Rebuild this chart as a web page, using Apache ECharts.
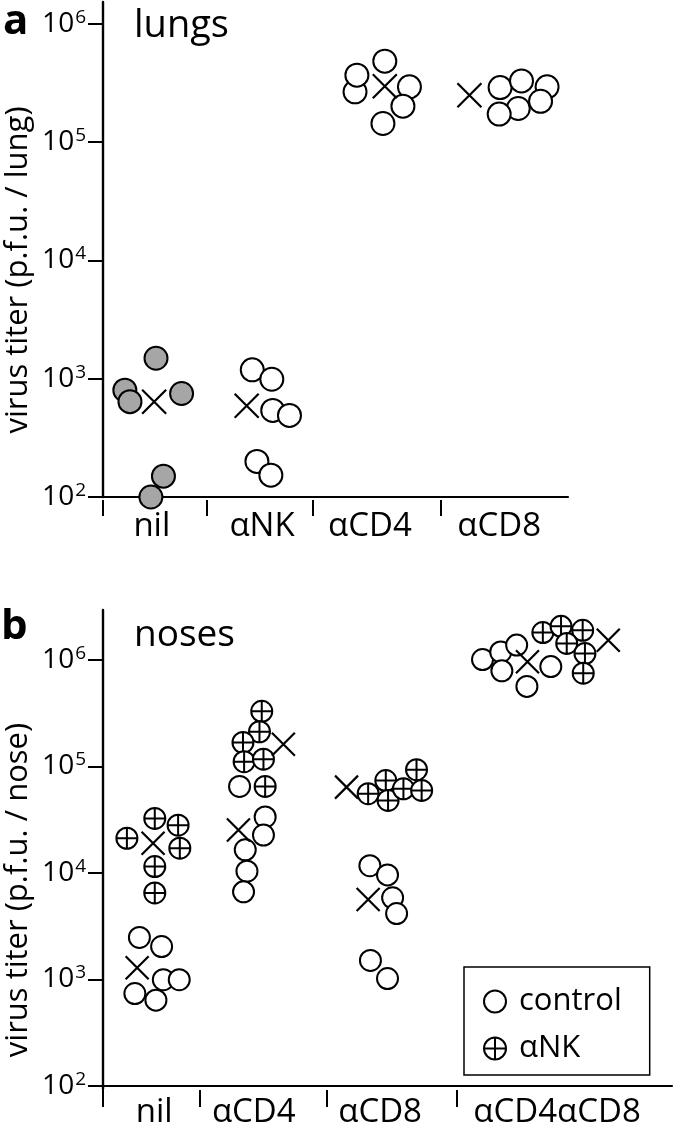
<!DOCTYPE html>
<html><head><meta charset="utf-8">
<script src="https://cdn.jsdelivr.net/npm/echarts@6/dist/echarts.min.js"></script>
<style>html,body{margin:0;padding:0;background:#fff}#c{width:675px;height:1129px}</style>
</head><body><div id="c"></div>
<script>
// ================= DATA =================
const tickExponents = [2, 3, 4, 5, 6];

// Panel a: lungs (p.f.u. / lung). X arrays = position along the axis (0-100), jitter
const lungCategories = ['nil', 'αNK', 'αCD4', 'αCD8'];
const lungCatCenters = [10.5, 34.2, 57.4, 85.2];
const lungCatBounds = [0, 22.4, 45.2, 72.7];

const lungNil = [1490, 800, 640, 750, 150, 100];
const lungNilX = [11.4, 4.7, 5.8, 16.9, 13.0, 10.3];
const lungNK = [1190, 990, 540, 490, 200, 153];
const lungNKX = [32.1, 36.3, 36.5, 40.1, 33.1, 36.1];
const lungCD4 = [267000, 369000, 485000, 294000, 202000, 144000];
const lungCD4X = [54.2, 54.6, 60.6, 65.9, 64.5, 60.2];
const lungCD8 = [294000, 290000, 330000, 193000, 222000, 173000];
const lungCD8X = [95.5, 85.4, 90.0, 89.3, 94.1, 85.2];
const lungMeans = [640, 590, 298000, 250000];
const lungMeansX = [11.0, 30.9, 60.6, 78.8];

// Panel b: noses (p.f.u. / nose)
const noseCategories = ['nil', 'αCD4', 'αCD8', 'αCD4αCD8'];
const noseCatCenters = [9.0, 26.5, 48.7, 79.8];
const noseCatBounds = [0, 17.0, 39.4, 62.2];

const noseNilCtrl = [2480, 2040, 996, 996, 738, 640];
const noseNilCtrlX = [6.4, 10.3, 10.6, 13.4, 5.6, 9.3];
const noseNilNK = [21200, 32500, 28100, 17100, 11500, 6500];
const noseNilNKX = [4.2, 9.1, 13.2, 13.5, 9.1, 9.1];
const noseCD4Ctrl = [65000, 33600, 22700, 16500, 10400, 6650];
const noseCD4CtrlX = [24.0, 28.5, 28.2, 25.0, 25.3, 24.7];
const noseCD4NK = [330000, 212000, 168000, 111000, 117000, 65000];
const noseCD4NKX = [27.9, 27.5, 24.6, 24.8, 28.2, 28.5];
const noseCD8Ctrl = [11700, 9600, 5850, 4160, 1510, 1020];
const noseCD8CtrlX = [46.9, 50.0, 50.9, 51.6, 47.0, 50.0];
const noseCD8NK = [55500, 73800, 48000, 61800, 93300, 59600];
const noseCD8NKX = [46.6, 49.7, 50.1, 52.8, 55.1, 56.0];
const noseCD48Ctrl = [1010000, 1190000, 1380000, 791000, 867000, 565000];
const noseCD48CtrlX = [66.7, 69.9, 72.7, 70.1, 78.7, 74.5];
const noseCD48NK = [1810000, 2070000, 1900000, 1430000, 1150000, 752000];
const noseCD48NKX = [77.3, 80.5, 84.3, 81.5, 84.7, 84.4];
const noseCtrlMeans = [1290, 25300, 5650, 964000];
const noseCtrlMeansX = [6.0, 23.8, 46.6, 74.6];
const noseNKMeans = [19000, 162000, 64000, 1530000];
const noseNKMeansX = [8.8, 31.7, 42.8, 88.8];

// ================= STYLE / BUILD =================
const FONT = '"Open Sans", "Noto Sans", sans-serif';
const plusCirclePath = 'path://M0,-10A10,10,0,1,1,0,10A10,10,0,1,1,0,-10ZM-10,0L10,0M0,-10L0,10';
const crossPath = 'path://M-10,-10L10,10M-10,10L10,-10';

function pts(xs, vs) { return vs.map((v, i) => [xs[i], v]); }

function series(name, panel, xs, vs, kind, size) {
  const s = {
    type: 'scatter', name, xAxisIndex: panel * 2, yAxisIndex: panel,
    data: pts(xs, vs), symbolSize: size, clip: false, silent: true,
    emphasis: { disabled: true }
  };
  if (kind === 'gray') {
    s.symbol = 'circle';
    s.itemStyle = { color: '#a6a6a6', borderColor: '#000', borderWidth: 2, opacity: 1 };
  } else if (kind === 'open') {
    s.symbol = 'circle';
    s.itemStyle = { color: '#fff', borderColor: '#000', borderWidth: 2, opacity: 1 };
  } else if (kind === 'plus') {
    s.symbol = plusCirclePath;
    s.itemStyle = { color: '#fff', borderColor: '#000', borderWidth: 2, opacity: 1 };
  } else {
    s.symbol = crossPath;
    s.itemStyle = { color: 'rgba(0,0,0,0)', borderColor: '#000', borderWidth: 2.2, opacity: 1 };
  }
  return s;
}

function nearestLabel(v, centers, names) {
  let bi = 0, bd = Infinity;
  centers.forEach((c, i) => { const d = Math.abs(c - v); if (d < bd) { bd = d; bi = i; } });
  return names[bi];
}

function yAxis(gi) {
  return {
    type: 'log', logBase: 10, gridIndex: gi, min: Math.pow(10, tickExponents[0]),
    max: Math.pow(10, tickExponents[tickExponents.length - 1]),
    axisLine: { show: false },
    axisTick: { show: true, length: 15, lineStyle: { color: '#000', width: 2 } },
    axisLabel: {
      margin: 17,
      formatter: v => '{b|10}{s|' + Math.round(Math.log10(v)) + '}',
      rich: {
        b: { fontSize: 28, fontFamily: FONT, color: '#000' },
        s: { fontSize: 19, fontFamily: FONT, color: '#000', padding: [0, 0, 13, 1] }
      }
    },
    splitLine: { show: false }
  };
}

function xMain(gi) {
  return {
    type: 'value', gridIndex: gi, min: 0, max: 100, position: 'bottom',
    axisLine: { show: true, onZero: false, lineStyle: { color: '#000', width: 2.2 } },
    axisTick: { show: false }, axisLabel: { show: false }, splitLine: { show: false }
  };
}

function xLabels(gi, bounds, centers, names, offset, tickLen, margin) {
  return {
    type: 'value', gridIndex: gi, min: 0, max: 100, position: 'bottom', offset,
    axisLine: { show: false, onZero: false },
    axisTick: { show: true, length: tickLen, customValues: bounds, lineStyle: { color: '#000', width: 2 } },
    axisLabel: {
      show: true, customValues: centers, margin,
      formatter: v => nearestLabel(v, centers, names),
      fontSize: 33, fontFamily: FONT, color: '#000'
    },
    splitLine: { show: false }
  };
}

function dummyX(gi) { return { type: 'value', gridIndex: gi, show: false, min: 0, max: 1 }; }
function dummyY(gi) {
  return {
    type: 'value', gridIndex: gi, min: 0, max: 1,
    axisLine: { show: true, lineStyle: { color: '#000', width: 2.4 } },
    axisTick: { show: false }, axisLabel: { show: false }, splitLine: { show: false }
  };
}

const option = {
  animation: false,
  backgroundColor: '#fff',
  grid: [
    { left: 103, top: 24, width: 465, height: 473 },
    { left: 103, top: 660, width: 569, height: 429 },
    { left: 103, top: 2, width: 465, height: 495 },
    { left: 103, top: 610, width: 569, height: 479 }
  ],
  xAxis: [
    xMain(0),
    xLabels(0, lungCatBounds, lungCatCenters, lungCategories, 3, 16, 10),
    xMain(1),
    xLabels(1, noseCatBounds, noseCatCenters, noseCategories, 4, 17, 6),
    dummyX(2), dummyX(3)
  ],
  yAxis: [yAxis(0), yAxis(1), dummyY(2), dummyY(3)],
  legend: {
    show: true, orient: 'vertical', left: 464, top: 967,
    padding: [19, 28, 11, 19], borderColor: '#000', borderWidth: 1.5,
    itemWidth: 22, itemHeight: 22, itemGap: 16, selectedMode: false,
    textStyle: { fontSize: 31, fontFamily: FONT, color: '#000', padding: [0, 0, 0, 8] },
    data: [
      { name: 'control', icon: 'circle', itemStyle: { color: '#fff', borderColor: '#000', borderWidth: 2 } },
      { name: 'αNK', icon: plusCirclePath, itemStyle: { color: '#fff', borderColor: '#000', borderWidth: 2 } }
    ]
  },
  graphic: [
    { type: 'text', x: 3, y: 22, style: { text: 'a', font: 'bold 42px ' + FONT, fill: '#000', verticalAlign: 'middle' } },
    { type: 'text', x: 134, y: 26, style: { text: 'lungs', font: '38px ' + FONT, fill: '#000', verticalAlign: 'middle' } },
    { type: 'text', x: 1, y: 627, style: { text: 'b', font: 'bold 42px ' + FONT, fill: '#000', verticalAlign: 'middle' } },
    { type: 'text', x: 134, y: 635, style: { text: 'noses', font: '37px ' + FONT, fill: '#000', verticalAlign: 'middle' } },
    { type: 'text', x: 18, y: 270, rotation: Math.PI / 2, style: { text: 'virus titer (p.f.u. / lung)', font: '31px ' + FONT, fill: '#000', align: 'center', verticalAlign: 'middle' } },
    { type: 'text', x: 18, y: 890, rotation: Math.PI / 2, style: { text: 'virus titer (p.f.u. / nose)', font: '31px ' + FONT, fill: '#000', align: 'center', verticalAlign: 'middle' } }
  ],
  series: [
    series('nil', 0, lungNilX, lungNil, 'gray', 23),
    series('αNK treated', 0, lungNKX, lungNK, 'open', 23),
    series('αCD4', 0, lungCD4X, lungCD4, 'open', 23),
    series('αCD8', 0, lungCD8X, lungCD8, 'open', 23),
    series('mean', 0, lungMeansX, lungMeans, 'cross', 24),

    series('control', 1, noseNilCtrlX, noseNilCtrl, 'open', 21),
    series('αNK', 1, noseNilNKX, noseNilNK, 'plus', 21),
    series('control', 1, noseCD4CtrlX, noseCD4Ctrl, 'open', 21),
    series('αNK', 1, noseCD4NKX, noseCD4NK, 'plus', 21),
    series('control', 1, noseCD8CtrlX, noseCD8Ctrl, 'open', 21),
    series('αNK', 1, noseCD8NKX, noseCD8NK, 'plus', 21),
    series('control', 1, noseCD48CtrlX, noseCD48Ctrl, 'open', 21),
    series('αNK', 1, noseCD48NKX, noseCD48NK, 'plus', 21),
    series('mean', 1, noseCtrlMeansX, noseCtrlMeans, 'cross', 23),
    series('mean', 1, noseNKMeansX, noseNKMeans, 'cross', 23)
  ]
};

const chart = echarts.init(document.getElementById('c'), null, { renderer: 'canvas' });
chart.setOption(option);
</script>
</body></html>
